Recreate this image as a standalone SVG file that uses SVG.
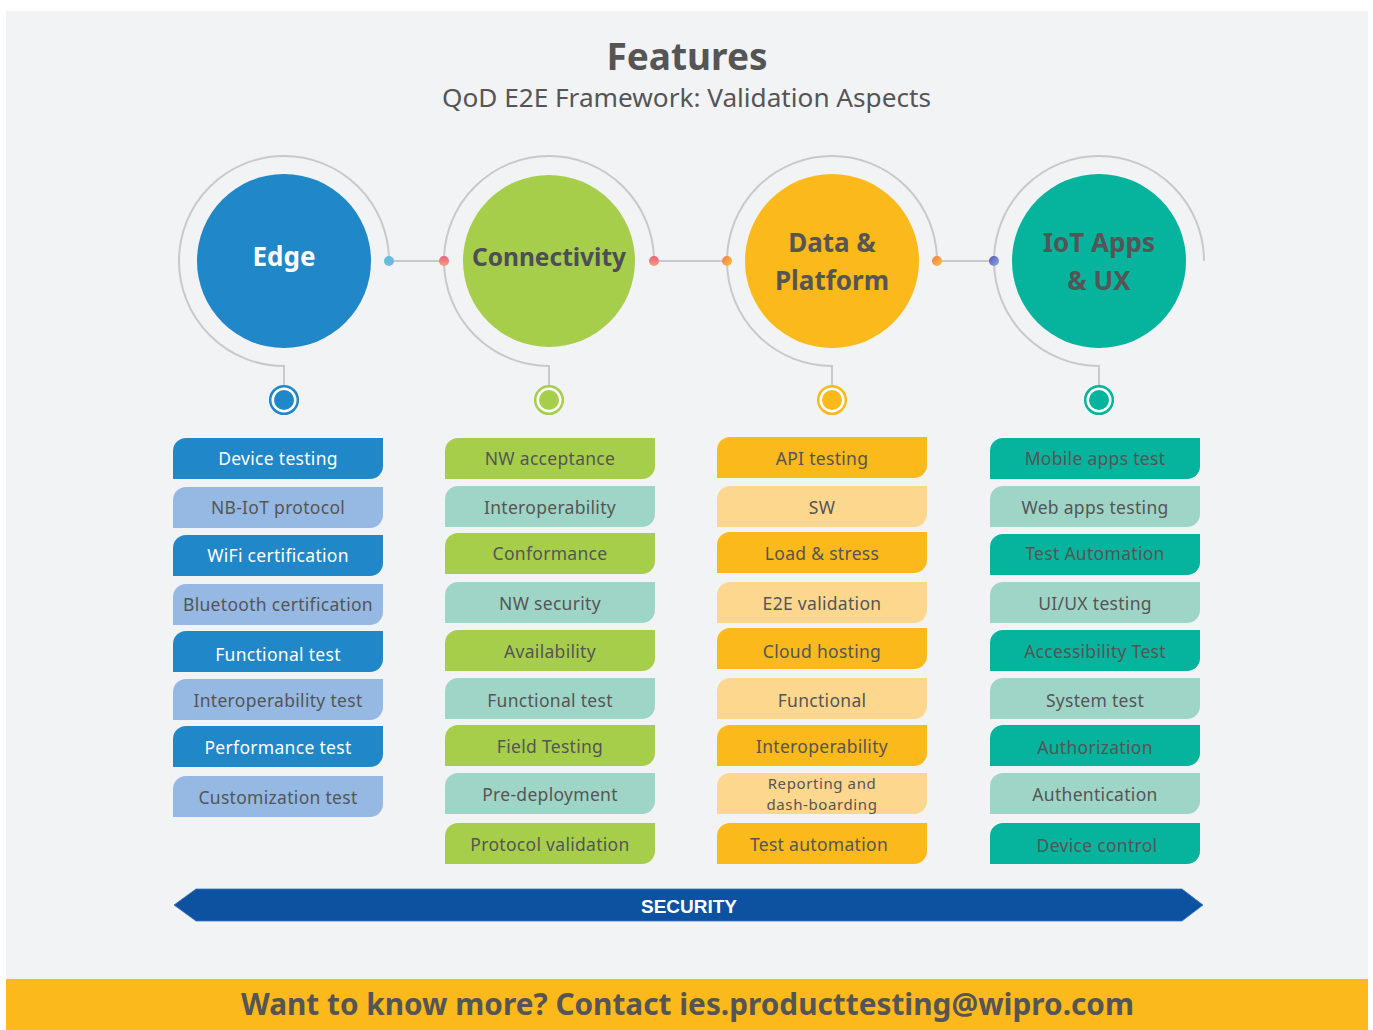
<svg xmlns="http://www.w3.org/2000/svg" xmlns:xlink="http://www.w3.org/1999/xlink" width="1373" height="1030" viewBox="0 0 1373 1030">
<style>
.t{font-family:"Noto Sans","Open Sans",sans-serif;font-size:17.5px;fill:#555;text-anchor:middle;letter-spacing:0.3px}
.ts{font-size:15px;letter-spacing:0.6px}
.tw{fill:#fff}
.hd{font-family:"Noto Sans","Open Sans",sans-serif;font-weight:bold;font-size:26px;fill:#555;text-anchor:middle}
.arc{fill:none;stroke:#C9C9C9;stroke-width:2}
.b1{fill:#2087C8}.b2{fill:#95B9E2}
.g1{fill:#A6CE4B}.g2{fill:#9FD5C7}
.y1{fill:#FBB91B}.y2{fill:#FDD78E}
.c1{fill:#06B39D}.c2{fill:#9FD5C7}
</style>
<defs>
<path id="tag" d="M0 13A13 13 0 0 1 13 0H210V28A13 13 0 0 1 197 41H0Z"/>
<linearGradient id="dA" x1="0" y1="0" x2="1" y2="1"><stop offset="0" stop-color="#56C3D8"/><stop offset="1" stop-color="#7FB2E3"/></linearGradient>
<linearGradient id="dB" x1="0" y1="0" x2="0" y2="1"><stop offset="0" stop-color="#EF5E7E"/><stop offset="1" stop-color="#F3A07A"/></linearGradient>
<linearGradient id="dC" x1="0" y1="0" x2="1" y2="1"><stop offset="0" stop-color="#F4784E"/><stop offset="1" stop-color="#FBC63A"/></linearGradient>
<linearGradient id="dD" x1="0" y1="0" x2="1" y2="1"><stop offset="0" stop-color="#5E4FAE"/><stop offset="1" stop-color="#7FB4E6"/></linearGradient>
</defs>
<rect x="0" y="0" width="1373" height="1030" fill="#fff"/>
<rect x="6" y="11" width="1362" height="968" fill="#F2F3F5"/>
<rect x="6" y="979" width="1362" height="51" fill="#FBB91B"/>

<g id="title">
<text x="687" y="70" font-family="Noto Sans, Open Sans, sans-serif" font-weight="bold" font-size="37" fill="#555" text-anchor="middle">Features</text>
<text x="442" y="107" font-family="Noto Sans, Open Sans, sans-serif" font-size="25" fill="#555" textLength="489" lengthAdjust="spacingAndGlyphs">QoD E2E Framework: Validation Aspects</text>
</g>

<g id="connectors">
<path class="arc" d="M389 261A105 105 0 1 0 284 366V386"/>
<path class="arc" d="M654 261A105 105 0 1 0 549 366V386"/>
<path class="arc" d="M937 261A105 105 0 1 0 832 366V386"/>
<path class="arc" d="M1204 261A105 105 0 1 0 1099 366V386"/>
<line class="arc" x1="389" y1="261" x2="444" y2="261"/>
<line class="arc" x1="654" y1="261" x2="727" y2="261"/>
<line class="arc" x1="937" y1="261" x2="994" y2="261"/>
<circle cx="389" cy="261" r="5" fill="url(#dA)"/>
<circle cx="444" cy="261" r="5" fill="url(#dB)"/>
<circle cx="654" cy="261" r="5" fill="url(#dB)"/>
<circle cx="727" cy="261" r="5" fill="url(#dC)"/>
<circle cx="937" cy="261" r="5" fill="url(#dC)"/>
<circle cx="994" cy="261" r="5" fill="url(#dD)"/>
</g>

<g id="edge">
<circle cx="284" cy="261" r="87" fill="#2087C8"/>
<text class="hd" x="284" y="266" style="fill:#fff">Edge</text>
<circle cx="284" cy="400" r="13.8" fill="#fff" stroke="#2087C8" stroke-width="2.5"/>
<circle cx="284" cy="400" r="10" fill="#2087C8"/>
</g>
<g id="connectivity">
<circle cx="549" cy="261" r="86" fill="#A6CE4B"/>
<text class="hd" x="549" y="266" style="fill:#4D4D55;font-size:24.5px">Connectivity</text>
<circle cx="549" cy="400" r="13.8" fill="#fff" stroke="#A6CE4B" stroke-width="2.5"/>
<circle cx="549" cy="400" r="10" fill="#A6CE4B"/>
</g>
<g id="data-platform">
<circle cx="832" cy="261" r="87" fill="#FBB91B"/>
<text class="hd" x="832" y="252">Data &amp;</text>
<text class="hd" x="832" y="290">Platform</text>
<circle cx="832" cy="400" r="13.8" fill="#fff" stroke="#FBB91B" stroke-width="2.5"/>
<circle cx="832" cy="400" r="10" fill="#FBB91B"/>
</g>
<g id="iot-apps">
<circle cx="1099" cy="261" r="87" fill="#06B39D"/>
<text class="hd" x="1099" y="252">IoT Apps</text>
<text class="hd" x="1099" y="290">&amp; UX</text>
<circle cx="1099" cy="400" r="13.8" fill="#fff" stroke="#06B39D" stroke-width="2.5"/>
<circle cx="1099" cy="400" r="10" fill="#06B39D"/>
</g>

<g id="edge-tags">
<g id="e1"><use xlink:href="#tag" x="173" y="438" class="b1"/><text class="t tw" x="278" y="465">Device testing</text></g>
<g id="e2"><use xlink:href="#tag" x="173" y="487" class="b2"/><text class="t" x="278" y="514">NB-IoT protocol</text></g>
<g id="e3"><use xlink:href="#tag" x="173" y="535" class="b1"/><text class="t tw" x="278" y="562">WiFi certification</text></g>
<g id="e4"><use xlink:href="#tag" x="173" y="584" class="b2"/><text class="t" x="278" y="611">Bluetooth certification</text></g>
<g id="e5"><use xlink:href="#tag" x="173" y="631" class="b1"/><text class="t tw" x="278" y="661">Functional test</text></g>
<g id="e6"><use xlink:href="#tag" x="173" y="679" class="b2"/><text class="t" x="278" y="707">Interoperability test</text></g>
<g id="e7"><use xlink:href="#tag" x="173" y="726" class="b1"/><text class="t tw" x="278" y="754">Performance test</text></g>
<g id="e8"><use xlink:href="#tag" x="173" y="776" class="b2"/><text class="t" x="278" y="804">Customization test</text></g>
</g>

<g id="connectivity-tags">
<g id="c1"><use xlink:href="#tag" x="445" y="438" class="g1"/><text class="t" x="550" y="465">NW acceptance</text></g>
<g id="c2"><use xlink:href="#tag" x="445" y="486" class="g2"/><text class="t" x="550" y="514">Interoperability</text></g>
<g id="c3"><use xlink:href="#tag" x="445" y="533" class="g1"/><text class="t" x="550" y="560">Conformance</text></g>
<g id="c4"><use xlink:href="#tag" x="445" y="582" class="g2"/><text class="t" x="550" y="610">NW security</text></g>
<g id="c5"><use xlink:href="#tag" x="445" y="630" class="g1"/><text class="t" x="550" y="658">Availability</text></g>
<g id="c6"><use xlink:href="#tag" x="445" y="678" class="g2"/><text class="t" x="550" y="707">Functional test</text></g>
<g id="c7"><use xlink:href="#tag" x="445" y="725" class="g1"/><text class="t" x="550" y="753">Field Testing</text></g>
<g id="c8"><use xlink:href="#tag" x="445" y="773" class="g2"/><text class="t" x="550" y="801">Pre-deployment</text></g>
<g id="c9"><use xlink:href="#tag" x="445" y="823" class="g1"/><text class="t" x="550" y="851">Protocol validation</text></g>
</g>

<g id="data-tags">
<g id="d1"><use xlink:href="#tag" x="717" y="437" class="y1"/><text class="t" x="822" y="465">API testing</text></g>
<g id="d2"><use xlink:href="#tag" x="717" y="486" class="y2"/><text class="t" x="822" y="514">SW</text></g>
<g id="d3"><use xlink:href="#tag" x="717" y="532" class="y1"/><text class="t" x="822" y="560">Load &amp; stress</text></g>
<g id="d4"><use xlink:href="#tag" x="717" y="582" class="y2"/><text class="t" x="822" y="610">E2E validation</text></g>
<g id="d5"><use xlink:href="#tag" x="717" y="628" class="y1"/><text class="t" x="822" y="658">Cloud hosting</text></g>
<g id="d6"><use xlink:href="#tag" x="717" y="678" class="y2"/><text class="t" x="822" y="707">Functional</text></g>
<g id="d7"><use xlink:href="#tag" x="717" y="725" class="y1"/><text class="t" x="822" y="753">Interoperability</text></g>
<g id="d8"><use xlink:href="#tag" x="717" y="773" class="y2"/><text class="t ts" x="822" y="789">Reporting and</text><text class="t ts" x="822" y="810">dash-boarding</text></g>
<g id="d9"><use xlink:href="#tag" x="717" y="823" class="y1"/><text class="t" x="819" y="851">Test automation</text></g>
</g>

<g id="iot-tags">
<g id="i1"><use xlink:href="#tag" x="990" y="438" class="c1"/><text class="t" x="1095" y="465">Mobile apps test</text></g>
<g id="i2"><use xlink:href="#tag" x="990" y="486" class="c2"/><text class="t" x="1095" y="514">Web apps testing</text></g>
<g id="i3"><use xlink:href="#tag" x="990" y="534" class="c1"/><text class="t" x="1095" y="560">Test Automation</text></g>
<g id="i4"><use xlink:href="#tag" x="990" y="582" class="c2"/><text class="t" x="1095" y="610">UI/UX testing</text></g>
<g id="i5"><use xlink:href="#tag" x="990" y="630" class="c1"/><text class="t" x="1095" y="658">Accessibility Test</text></g>
<g id="i6"><use xlink:href="#tag" x="990" y="678" class="c2"/><text class="t" x="1095" y="707">System test</text></g>
<g id="i7"><use xlink:href="#tag" x="990" y="725" class="c1"/><text class="t" x="1095" y="754">Authorization</text></g>
<g id="i8"><use xlink:href="#tag" x="990" y="773" class="c2"/><text class="t" x="1095" y="801">Authentication</text></g>
<g id="i9"><use xlink:href="#tag" x="990" y="823" class="c1"/><text class="t" x="1097" y="852">Device control</text></g>
</g>

<g id="security">
<polygon points="174,905 196,889 1182,889 1203,905 1182,921 196,921" fill="#0D51A1" stroke="#3B74B8" stroke-width="0.8"/>
<text x="689" y="913" font-family="Liberation Sans, Arial, sans-serif" font-weight="bold" font-size="19" fill="#fff" text-anchor="middle">SECURITY</text>
</g>

<g id="footer">
<text x="241" y="1015" font-family="Noto Sans, Open Sans, sans-serif" font-weight="bold" font-size="31" fill="#555" textLength="893" lengthAdjust="spacingAndGlyphs">Want to know more? Contact ies.producttesting@wipro.com</text>
</g>
</svg>
